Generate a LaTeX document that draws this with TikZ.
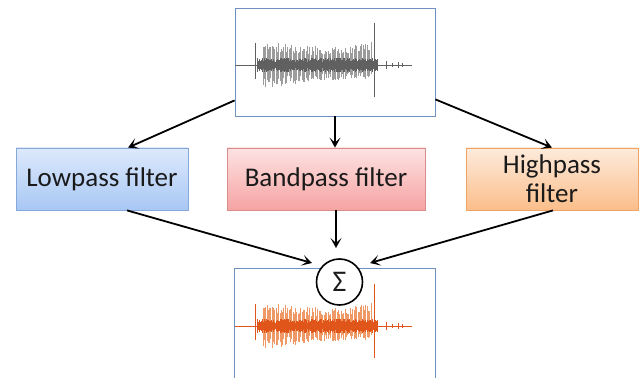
\documentclass[tikz,border=0pt]{standalone}
\usepackage{fontspec}
\setmainfont{Carlito}
\usetikzlibrary{arrows.meta}

\definecolor{frameblue}{HTML}{7090C0}
\definecolor{lowtop}{HTML}{DDE9FC}
\definecolor{lowbot}{HTML}{A8C7F4}
\definecolor{lowedge}{HTML}{86A8DA}
\definecolor{bandtop}{HTML}{FDE2E2}
\definecolor{bandbot}{HTML}{F6A3A3}
\definecolor{bandedge}{HTML}{D98C8C}
\definecolor{hightop}{HTML}{FDEBDC}
\definecolor{highbot}{HTML}{FBBE8A}
\definecolor{highedge}{HTML}{EFA466}
\definecolor{waveltgray}{HTML}{9C9C9C}
\definecolor{wavedkgray}{HTML}{606060}
\definecolor{waveltorange}{HTML}{EF9A66}
\definecolor{wavedkorange}{HTML}{E0561A}
\definecolor{txt}{HTML}{1A1A1A}

% audio trace: #1 baseline height, #2 spike colour, #3 core colour
\newcommand{\soundtrace}[3]{%
  \begin{scope}[shift={(0,#1)}]
    \pgfmathsetseed{4242}
    \draw[#3, line width=0.6pt] (235,0) -- (412,0);
    % outer spikes with a decaying envelope
    \foreach \x in {263,264.3,...,372}{
      \pgfmathsetmacro{\t}{(\x-263)/109}
      \pgfmathsetmacro{\up}{(27-30*\t+26*\t*\t)*(0.55+0.45*rnd)}
      \pgfmathsetmacro{\dn}{(25-22*\t+12*\t*\t)*(0.55+0.45*rnd)}
      \draw[#2, line width=0.8pt] (\x,-\dn) -- (\x,\up);
    }
    % dense core of the signal
    \foreach \x in {257,257.6,...,378}{
      \pgfmathsetmacro{\a}{3+4*rnd}
      \draw[#3, line width=0.7pt] (\x,-\a) -- (\x,\a);
    }
    % onset click, final transient and the tail
    \draw[#3, line width=0.9pt] (255,-14) -- (255,22);
    \draw[#3, line width=1pt] (374,-32) -- (374,42);
    \draw[#3, line width=0.7pt] (386,-4) -- (386,4);
    \draw[#3, line width=0.7pt] (392,-2) -- (392,2);
    \draw[#3, line width=0.7pt] (398,-3) -- (398,3);
    \draw[#3, line width=0.7pt] (402,-2) -- (402,2);
  \end{scope}}

\tikzset{
  wavebox/.style={draw=frameblue, line width=0.8pt, fill=white, minimum width=200pt, inner sep=0pt},
  filterbox/.style={line width=0.8pt, minimum height=62pt, inner sep=0pt, align=center,
    font=\fontsize{27}{29}\selectfont, text=txt},
  conn/.style={line width=1.8pt, -{Stealth[length=10pt,width=11pt,inset=5pt]}},
}

\begin{document}
\begin{tikzpicture}[x=1pt, y=1pt]
  \useasboundingbox (0,0) rectangle (639,377);

  % input signal
  \node[wavebox, minimum height=108pt] (topwave) at (335,315) {};
  \soundtrace{312}{waveltgray}{wavedkgray}

  % filter bank
  \node[filterbox, draw=lowedge, top color=lowtop, bottom color=lowbot, minimum width=172pt]
    (low) at (102,198) {Lowpass filter};
  \node[filterbox, draw=bandedge, top color=bandtop, bottom color=bandbot, minimum width=198pt]
    (band) at (326,198) {Bandpass filter};
  \node[filterbox, draw=highedge, top color=hightop, bottom color=highbot, minimum width=172pt]
    (high) at (552,198) {Highpass\\filter};

  % output signal, open at the bottom
  \node[minimum width=200pt, minimum height=112pt, inner sep=0pt] (botwave) at (335,52) {};
  \draw[frameblue, line width=0.8pt] (botwave.south west) -- (botwave.north west)
    -- (botwave.north east) -- (botwave.south east);
  \soundtrace{51}{waveltorange}{wavedkorange}

  % summing junction
  \node[circle, draw=black, line width=1.6pt, fill=white, minimum size=46pt, inner sep=0pt,
    font=\fontsize{30}{32}\selectfont, text=txt] (sigma) at (339.5,95) {Σ};

  % connectors
  \draw[conn] ([yshift=16pt]topwave.south west) -- ([xshift=26pt]low.north);
  \draw[conn] (topwave.south) -- (topwave.south |- band.north);
  \draw[conn] ([yshift=17pt]topwave.south east) -- (high.north);
  \draw[conn] ([xshift=25pt]low.south) -- ([shift={(-27.5pt,19pt)}]sigma.center);
  \draw[conn] ([xshift=10pt]band.south) -- ([shift={(-3.5pt,34pt)}]sigma.center);
  \draw[conn] ([xshift=1pt]high.south) -- ([shift={(30.5pt,19pt)}]sigma.center);
\end{tikzpicture}
\end{document}
